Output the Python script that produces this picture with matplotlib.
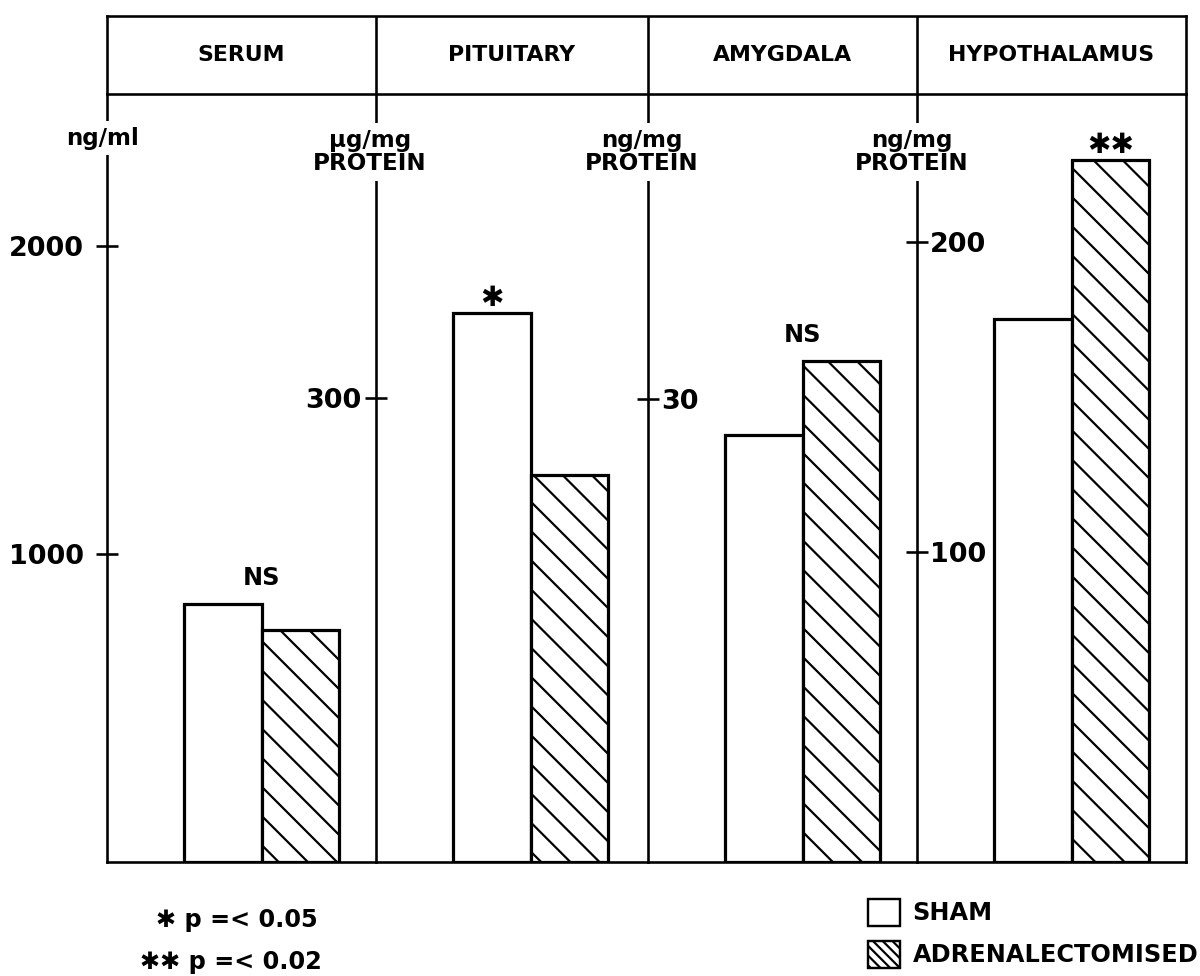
import matplotlib.pyplot as plt
from matplotlib.patches import Patch

# data
regions = ['SERUM', 'PITUITARY', 'AMYGDALA', 'HYPOTHALAMUS']
units = ['ng/ml', 'µg/mg\nPROTEIN', 'ng/mg\nPROTEIN', 'ng/mg\nPROTEIN']
sham = [838, 355, 27.7, 175]
adx = [753, 250, 32.5, 226.5]
signif = ['NS', '✱', 'NS', '✱✱']
sig_pos = [0.5, 0, 0.5, 1]          # over which bar the mark sits
yticks = [[1000, 2000], [300], [30], [100, 200]]
ytop = [2494, 496.6, 49.8, 247.7]
labels_right = [False, False, True, True]

W, H, DPI = 1200, 976, 175
def pt(px):
    return px * 72 / DPI

plt.rcParams['font.family'] = ['DejaVu Sans']
plt.rcParams['font.weight'] = 'bold'
plt.rcParams['hatch.linewidth'] = pt(2.2)

fig = plt.figure(figsize=(W / DPI, H / DPI), dpi=DPI)

edges = [107, 376, 648, 917, 1186]
top, head_bot, base = 16, 94, 862
bw = 77.5            # bar width in px
off = 77             # sham left edge from panel left, px
lw = pt(2.6)

for i in range(4):
    x0, x1 = edges[i], edges[i + 1]
    ax = fig.add_axes([x0 / W, 1 - base / H, (x1 - x0) / W, (base - head_bot) / H])
    c = (off + bw / 2) / bw
    ax.set_xlim(-c, (x1 - x0) / bw - c)
    ax.set_ylim(0, ytop[i])
    ax.bar(0, sham[i], width=1, color='white', edgecolor='black', linewidth=pt(3.2))
    ax.bar(1, adx[i], width=1, color='white', edgecolor='black', linewidth=pt(3.2),
           hatch='\\\\')
    hi = max(sham[i], adx[i]) if sig_pos[i] == 0.5 else [sham[i], adx[i]][sig_pos[i]]
    is_ns = signif[i] == 'NS'
    ax.annotate(signif[i], (sig_pos[i], hi), xytext=(0, pt(14) if is_ns else pt(1)),
                textcoords='offset points', ha='center', va='bottom',
                fontsize=pt(24) if is_ns else pt(28))
    for s in ['top', 'right']:
        ax.spines[s].set_visible(False)
    if i == 3:
        ax.spines['right'].set_visible(True)
    for s in ax.spines.values():
        s.set_linewidth(lw)
    ax.set_xticks([])
    ax.set_yticks(yticks[i])
    ax.tick_params(axis='y', direction='inout', length=pt(22), width=lw,
                   labelsize=pt(27), pad=pt(-24) if labels_right[i] else pt(12))
    if labels_right[i]:
        plt.setp(ax.get_yticklabels(), ha='left')
    elif i == 1:
        ax.tick_params(axis='y', pad=pt(4))
    ax.patch.set_visible(False)

# header strip
hax = fig.add_axes([edges[0] / W, 1 - head_bot / H, (edges[-1] - edges[0]) / W, (head_bot - top) / H])
hax.set_xlim(edges[0], edges[-1])
hax.set_ylim(0, 1)
hax.set_xticks([])
hax.set_yticks([])
for s in hax.spines.values():
    s.set_linewidth(lw)
for i in range(4):
    if i > 0:
        hax.axvline(edges[i], color='black', linewidth=lw)
    hax.text((edges[i] + edges[i + 1]) / 2, 0.5, regions[i], ha='center', va='center',
             fontsize=pt(22))

# unit labels breaking the dividers
unit_x = [102, 370, 642, 912]
unit_y = [138, 152, 152, 152]
for i in range(4):
    fig.text(unit_x[i] / W, 1 - unit_y[i] / H, units[i], ha='center', va='center',
             multialignment='center', fontsize=pt(23), linespacing=0.95,
             bbox=dict(facecolor='white', edgecolor='none', pad=pt(6)), zorder=5)

# significance key
fig.text(318 / W, 1 - 920 / H, '✱ p =< 0.05', ha='right', va='center', fontsize=pt(24))
fig.text(322 / W, 1 - 962 / H, '✱✱ p =< 0.02', ha='right', va='center', fontsize=pt(24))

# legend
handles = [Patch(facecolor='white', edgecolor='black', linewidth=pt(2.4), label='SHAM'),
           Patch(facecolor='white', edgecolor='black', linewidth=pt(2.4), hatch='\\' * 6,
                 label='ADRENALECTOMISED')]
fig.legend(handles=handles, loc='upper left', bbox_to_anchor=(868 / W, 1 - 899 / H),
           frameon=False, fontsize=pt(24), handlelength=1.35, handleheight=1.35,
           handletextpad=0.5, labelspacing=0.62, borderpad=0, borderaxespad=0)

fig.savefig('out.png', dpi=DPI)
